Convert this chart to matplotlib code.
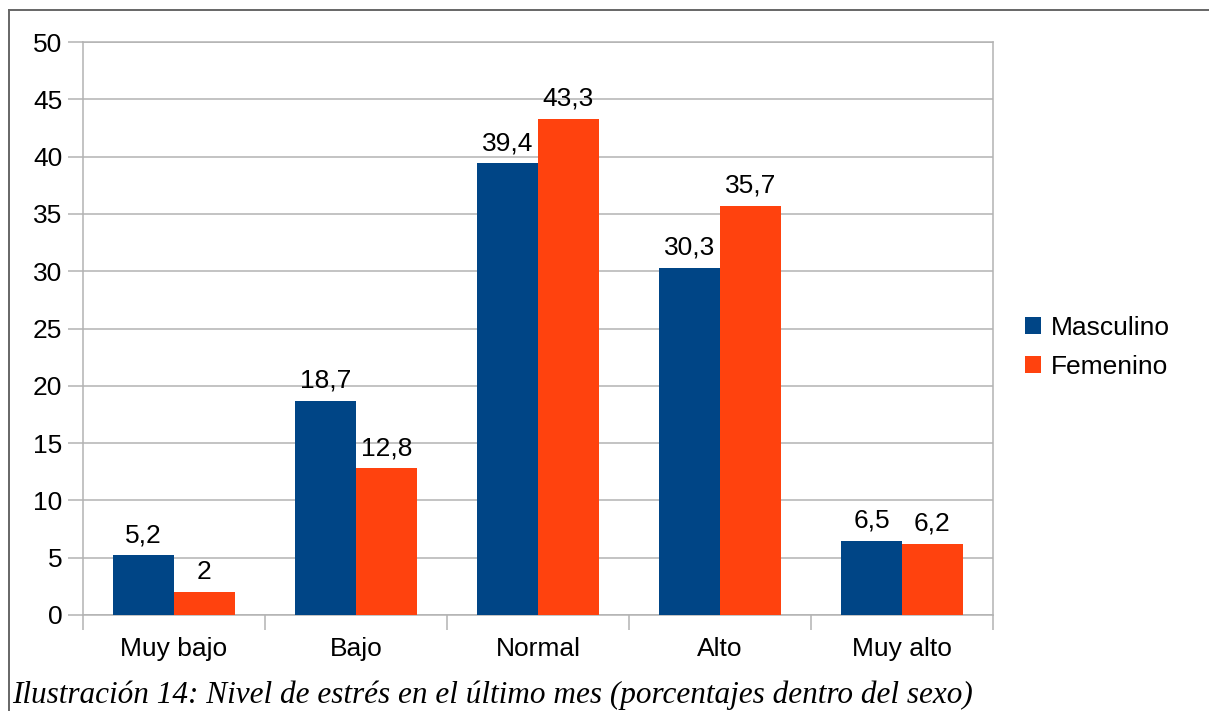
import matplotlib.pyplot as plt
from matplotlib.lines import Line2D
import numpy as np

# Nivel de estrés por sexo (porcentajes)
categorias = ["Muy bajo", "Bajo", "Normal", "Alto", "Muy alto"]
masculino = [5.2, 18.7, 39.4, 30.3, 6.5]
femenino = [2.0, 12.8, 43.3, 35.7, 6.2]
etiquetas_m = ["5,2", "18,7", "39,4", "30,3", "6,5"]
etiquetas_f = ["2", "12,8", "43,3", "35,7", "6,2"]
series = ["Masculino", "Femenino"]
colores = ["#004586", "#ff420e"]
titulo = "Ilustración 14: Nivel de estrés en el último mes (porcentajes dentro del sexo)"

W, H = 1209, 711
fig = plt.figure(figsize=(W / 100, H / 100), dpi=100)
fig.patch.set_facecolor("white")

# marco exterior (izquierda y arriba)
fig.add_artist(Line2D([9 / W, 9 / W], [0, 1 - 10 / H], transform=fig.transFigure,
                      color="#666666", lw=1.4))
fig.add_artist(Line2D([9 / W, 1], [1 - 10 / H, 1 - 10 / H], transform=fig.transFigure,
                      color="#666666", lw=1.4))

ax = fig.add_axes([83 / W, 1 - 615 / H, (993 - 83) / W, (615 - 42) / H])

x = np.arange(len(categorias))
ancho = 0.335
gris = "#b3b3b3"
fs = 19

b1 = ax.bar(x - ancho / 2, masculino, ancho, color=colores[0], label=series[0], zorder=3)
b2 = ax.bar(x + ancho / 2, femenino, ancho, color=colores[1], label=series[1], zorder=3)

for barras, textos in ((b1, etiquetas_m), (b2, etiquetas_f)):
    for b, t in zip(barras, textos):
        ax.annotate(t, (b.get_x() + b.get_width() / 2, b.get_height()),
                    xytext=(0, 9.5), textcoords="offset points",
                    ha="center", va="baseline", fontsize=fs,
                    family="Liberation Sans", color="black")

ax.set_xlim(-0.5, len(categorias) - 0.5)
ax.set_ylim(0, 50)
ax.set_yticks(np.arange(0, 51, 5))
ax.yaxis.grid(True, color=gris, lw=1.1, zorder=0)
ax.set_axisbelow(True)

ax.set_xticks(x)
ax.set_xticklabels(categorias)
ax.set_xticks(np.arange(-0.5, len(categorias), 1), minor=True)
ax.tick_params(axis="x", which="major", length=0, pad=16)
ax.tick_params(axis="x", which="minor", length=11, width=1.1, color=gris)
ax.tick_params(axis="y", length=11, width=1.1, color=gris, pad=4)
for lab in ax.get_xticklabels() + ax.get_yticklabels():
    lab.set_family("Liberation Sans")
    lab.set_fontsize(fs)

for s in ax.spines.values():
    s.set_color(gris)
    s.set_linewidth(1.1)

ax.legend(loc="center left", bbox_to_anchor=(1.035, 0.467), frameon=False,
          prop={"family": "Liberation Sans", "size": fs}, borderpad=0, borderaxespad=0,
          handlelength=0.6, handleheight=0.6, handletextpad=0.38, labelspacing=0.55)

fig.text(12 / W, 1 - 703 / H, titulo, family="Liberation Serif", style="italic",
         fontsize=22.5, va="baseline", ha="left", color="black")

fig.savefig("out.png", dpi=100)
